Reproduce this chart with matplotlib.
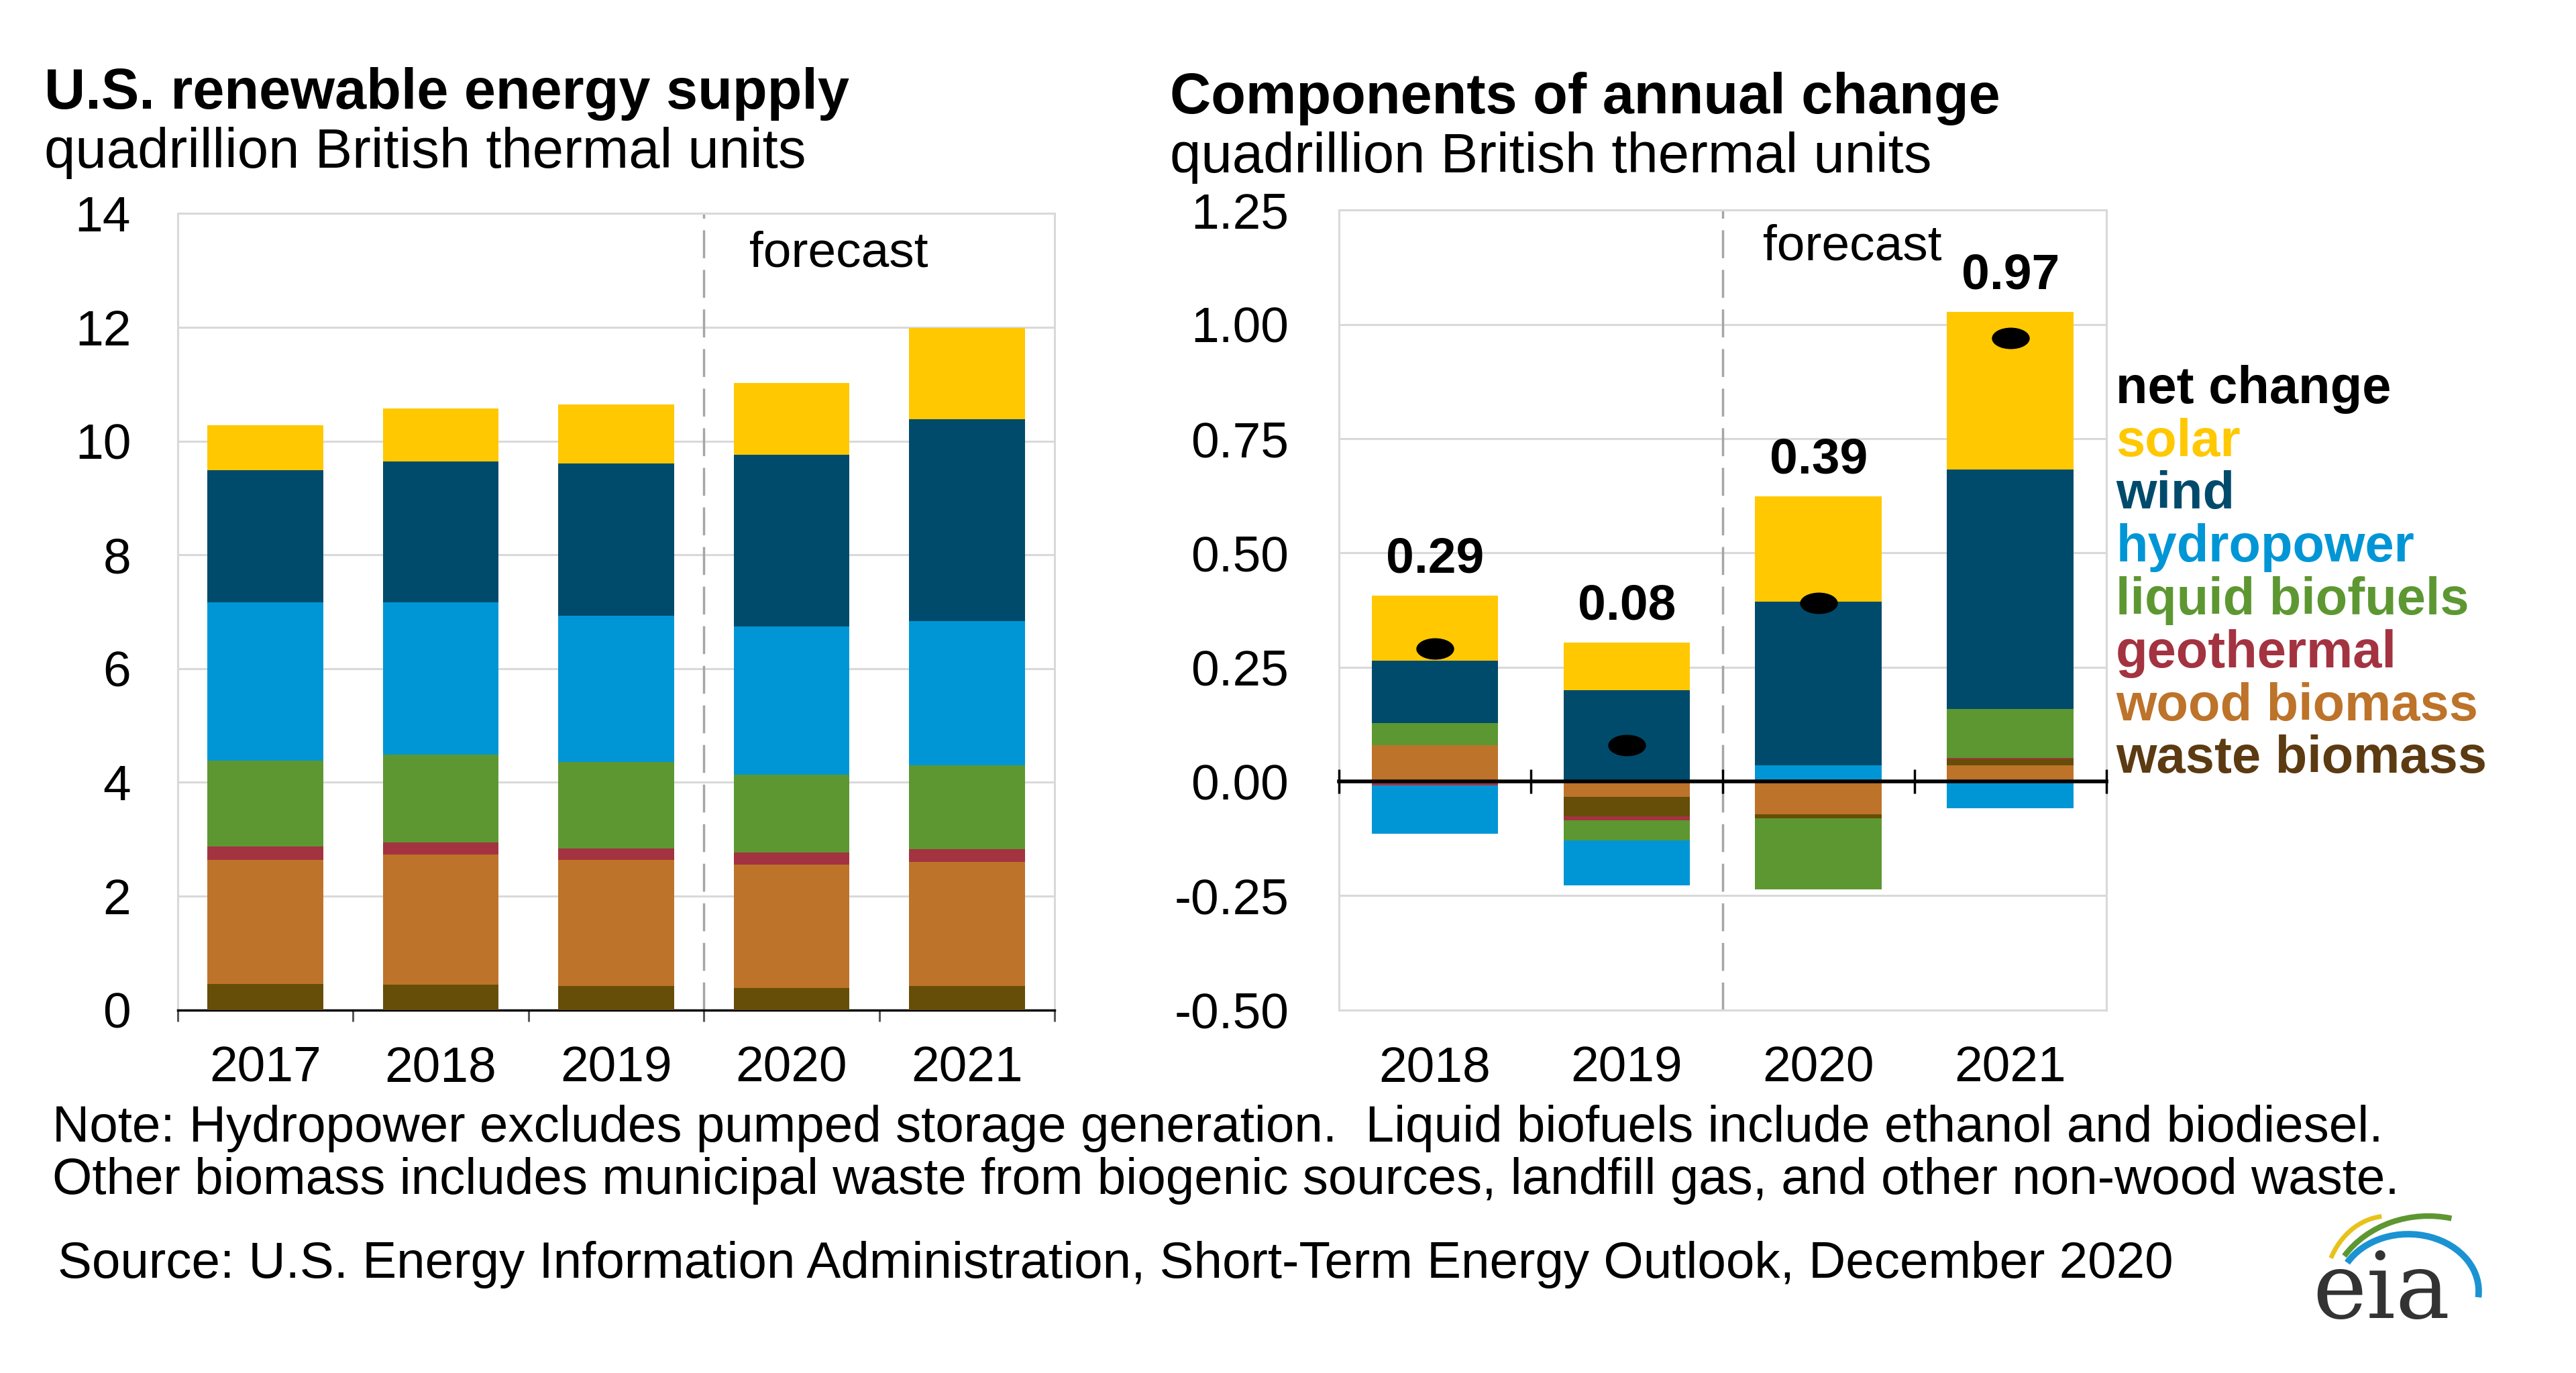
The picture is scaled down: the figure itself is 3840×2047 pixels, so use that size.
import numpy as np
import matplotlib
matplotlib.use('Agg')
import matplotlib.pyplot as plt
from matplotlib.markers import MarkerStyle
from matplotlib.transforms import Affine2D
from matplotlib.patches import Arc

plt.rcParams['font.family'] = ['Liberation Sans', 'DejaVu Sans']

# ---- data (quadrillion Btu) ----
supply_years = ['2017', '2018', '2019', '2020', '2021']
change_years = ['2018', '2019', '2020', '2021']

# left panel, stacked bottom to top
waste_supply = [0.46, 0.45, 0.42, 0.39, 0.42]
wood_supply = [2.18, 2.28, 2.22, 2.17, 2.18]
geo_supply = [0.23, 0.21, 0.20, 0.21, 0.23]
biofuel_supply = [1.51, 1.55, 1.52, 1.37, 1.47]
hydro_supply = [2.79, 2.68, 2.57, 2.60, 2.53]
wind_supply = [2.32, 2.47, 2.68, 3.02, 3.56]
solar_supply = [0.79, 0.93, 1.03, 1.26, 1.60]

# right panel, annual change by source
wood_change = [0.080, -0.034, -0.072, 0.035]
waste_change = [0.0, -0.042, -0.009, 0.013]
geo_change = [-0.008, -0.009, 0.004, 0.003]
biofuel_change = [0.048, -0.044, -0.155, 0.107]
hydro_change = [-0.106, -0.098, 0.031, -0.059]
wind_change = [0.136, 0.200, 0.359, 0.524]
solar_change = [0.143, 0.104, 0.230, 0.345]
net_change = [0.29, 0.08, 0.39, 0.97]

legend_labels = ['net change', 'solar', 'wind', 'hydropower', 'liquid biofuels',
                 'geothermal', 'wood biomass', 'waste biomass']

# colours
C_SOLAR = '#FFC800'
C_WIND = '#004B6B'
C_HYDRO = '#0096D6'
C_BIO = '#5D9732'
C_GEO = '#A33340'
C_WOOD = '#BD732A'
C_WASTE = '#664E08'
legend_colors = ['black', C_SOLAR, C_WIND, C_HYDRO, C_BIO, C_GEO, C_WOOD, '#5C3A12']
GRID = '#D9D9D9'
FS = 54

fig = plt.figure(figsize=(38.4, 20.47), dpi=100)

# ===== left panel =====
ax1 = fig.add_axes([0.0689, 0.2644, 0.3405, 0.5801])
x1 = np.arange(len(supply_years))
bottom = np.zeros(len(x1))
for vals, col in [(waste_supply, C_WASTE), (wood_supply, C_WOOD), (geo_supply, C_GEO),
                  (biofuel_supply, C_BIO), (hydro_supply, C_HYDRO), (wind_supply, C_WIND),
                  (solar_supply, C_SOLAR)]:
    ax1.bar(x1, vals, 0.66, bottom=bottom, color=col, linewidth=0, zorder=3)
    bottom += np.array(vals)

ax1.set_xlim(-0.5, len(x1) - 0.5)
ax1.set_ylim(0, 14)
ax1.set_yticks(range(0, 15, 2))
ax1.yaxis.grid(True, color=GRID, lw=2.2, zorder=0)
ax1.set_axisbelow(True)
for s in ['left', 'top', 'right']:
    ax1.spines[s].set_color(GRID)
    ax1.spines[s].set_linewidth(2.2)
ax1.spines['bottom'].set_color('black')
ax1.spines['bottom'].set_linewidth(2.5)
ax1.set_xticks(x1)
ax1.set_xticklabels(supply_years)
ax1.set_xticks(np.arange(-0.5, len(x1)), minor=True)
ax1.tick_params(axis='x', which='major', length=0, pad=38, labelsize=FS)
ax1.tick_params(axis='x', which='minor', length=12, width=2.2, color='#595959')
ax1.tick_params(axis='y', length=0, pad=50, labelsize=FS)
ax1.axvline(2.5, color='#A6A6A6', lw=2.5, ls=(0, (12, 5)), zorder=2)
ax1.text(2.76, 13.3, 'forecast', ha='left', va='center', fontsize=FS)

# ===== right panel =====
ax2 = fig.add_axes([0.5198, 0.2644, 0.2978, 0.5825])
x2 = np.arange(len(change_years))
pos = np.zeros(len(x2))
neg = np.zeros(len(x2))
for vals, col in [(wood_change, C_WOOD), (waste_change, C_WASTE), (geo_change, C_GEO),
                  (biofuel_change, C_BIO), (hydro_change, C_HYDRO), (wind_change, C_WIND),
                  (solar_change, C_SOLAR)]:
    v = np.array(vals)
    ax2.bar(x2, v, 0.66, bottom=np.where(v >= 0, pos, neg), color=col, linewidth=0, zorder=3)
    pos += np.clip(v, 0, None)
    neg += np.clip(v, None, 0)

ymin, ymax = -0.5, 1.25
ax2.set_xlim(-0.5, len(x2) - 0.5)
ax2.set_ylim(ymin, ymax)
ax2.set_yticks(np.arange(ymin, ymax + 0.01, 0.25))
ax2.set_yticklabels([f'{t:.2f}' for t in np.arange(ymin, ymax + 0.01, 0.25)])
ax2.yaxis.grid(True, color=GRID, lw=2.2, zorder=0)
ax2.set_axisbelow(True)
for s in ax2.spines.values():
    s.set_color(GRID)
    s.set_linewidth(2.2)
ax2.set_xticks(x2)
ax2.set_xticklabels(change_years)
ax2.tick_params(axis='x', length=0, pad=38, labelsize=FS)
ax2.tick_params(axis='y', length=0, pad=54, labelsize=FS)
ax2.axvline(1.5, color='#A6A6A6', lw=2.5, ls=(0, (12, 5)), zorder=2)
ax2.text(1.71, 1.17, 'forecast', ha='left', va='center', fontsize=FS)

# zero axis with category-boundary ticks
zero_ax = ax2.secondary_xaxis((0 - ymin) / (ymax - ymin))
zero_ax.set_xticks(np.arange(-0.5, len(x2)))
zero_ax.set_xticklabels([])
zero_ax.tick_params(direction='inout', length=26, width=2.5, color='black')
zero_ax.spines['bottom'].set_color('black')
zero_ax.spines['bottom'].set_linewidth(4)
zero_ax.set_zorder(5)

pill = MarkerStyle('o', transform=Affine2D().scale(1.8, 1.0))
ax2.plot(x2, net_change, ls='none', marker=pill, ms=22, color='black', zorder=6)
for xi, top, v in zip(x2, pos, net_change):
    ax2.annotate(f'{v:.2f}', (xi, top), xytext=(0, 14), textcoords='offset points',
                 ha='center', va='bottom', fontsize=FS, fontweight='bold')

# legend as coloured text
for i, (lab, col) in enumerate(zip(legend_labels, legend_colors)):
    fig.text(0.8214, 0.7165 - i * 0.0385, lab, color=col, fontsize=56,
             fontweight='bold', ha='left', va='center')

# titles
fig.text(0.0172, 0.9318, 'U.S. renewable energy supply', fontsize=61,
         fontweight='bold', ha='left', va='center')
fig.text(0.0172, 0.8888, 'quadrillion British thermal units', fontsize=60,
         ha='left', va='center')
fig.text(0.4541, 0.9282, 'Components of annual change', fontsize=61,
         fontweight='bold', ha='left', va='center')
fig.text(0.4541, 0.8852, 'quadrillion British thermal units', fontsize=60,
         ha='left', va='center')

# notes
fig.text(0.0204, 0.178, 'Note: Hydropower excludes pumped storage generation.  '
         'Liquid biofuels include ethanol and biodiesel.', fontsize=55, va='center')
fig.text(0.0204, 0.140, 'Other biomass includes municipal waste from biogenic sources, '
         'landfill gas, and other non-wood waste.', fontsize=55, va='center')
fig.text(0.0223, 0.079, 'Source: U.S. Energy Information Administration, '
         'Short-Term Energy Outlook, December 2020', fontsize=55, va='center')

# eia logo
lax = fig.add_axes([3420 / 3840, 1 - 1985 / 2047, 280 / 3840, 195 / 2047])
lax.set_xlim(0, 280)
lax.set_ylim(0, 195)
lax.axis('off')
lax.add_patch(Arc((140, 60), 190, 224, theta1=95, theta2=150, color='#E8C21C', lw=5))
lax.add_patch(Arc((200, 40), 300, 264, theta1=75, theta2=150, color='#5D9732', lw=6))
lax.add_patch(Arc((170, 60), 210, 170, theta1=-5, theta2=155, color='#1B93D2', lw=7))
lax.text(130, 20, 'eia', family='DejaVu Serif', fontsize=98, color='#333333',
         ha='center', va='baseline')

fig.savefig('out.png', dpi=100, facecolor='white')
